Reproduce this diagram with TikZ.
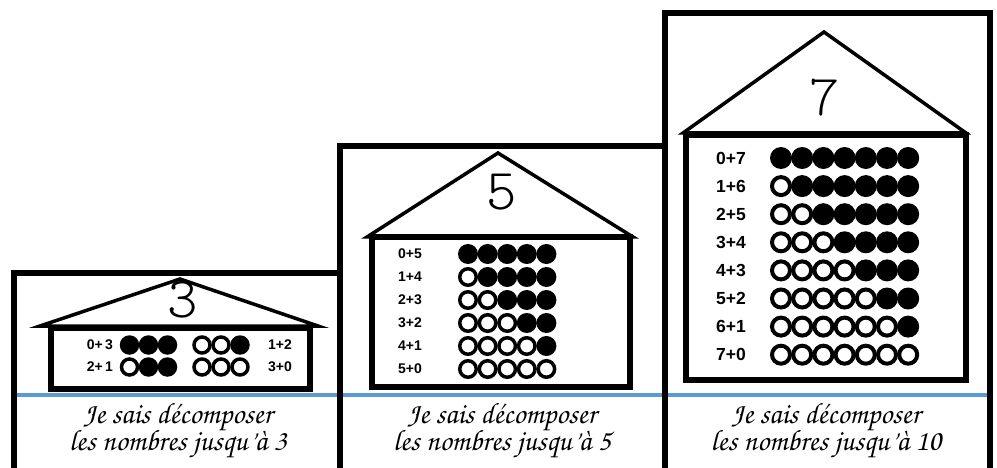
\documentclass[tikz,border=0pt]{standalone}
\usepackage{fontspec}
\newfontfamily\labfont{Liberation Sans}
\newfontfamily\thinfont[Extension=.otf]{lmmonolt10-regular}
\newfontfamily\cursfont[Extension=.otf]{texgyrechorus-mediumitalic}
\definecolor{lineblue}{RGB}{91,155,213}
\begin{document}
\begin{tikzpicture}[x=1pt,y=-1pt,
  frame/.style={draw=black, line width=5.5pt, line join=miter},
  roof/.style={draw=black, line width=3.5pt, line join=miter},
  hbox/.style={draw=black, line width=5.5pt, fill=white},
  digit/.style={inner sep=0pt, font=\thinfont\fontsize{58}{58}\selectfont},
  lab/.style={inner sep=0pt, font=\labfont\bfseries\fontsize{14}{14}\selectfont},
  labbig/.style={inner sep=0pt, font=\labfont\bfseries\fontsize{17.5}{17.5}\selectfont},
  caption/.style={inner sep=0pt, anchor=base, font=\cursfont\fontsize{29.5}{29.5}\selectfont},
  ringa/.style={draw=black, line width=3.5pt, fill=white},
  ringb/.style={draw=black, line width=4pt, fill=white}]
\clip (0,0) rectangle (997,468);
\fill[white] (0,0) rectangle (997,468);
% blue line
\draw[lineblue, line width=3.5pt] (14,395) -- (990,395);
% frames
\draw[frame] (14,480) -- (14,273) -- (340,273);
\draw[frame] (340,480) -- (340,146) -- (665,146);
\draw[frame] (665,480) -- (665,13) -- (990,13) -- (990,480);
% ---------- house 1 ----------
\draw[roof] (40,326) -- (180,279) -- (318,326) -- cycle;
\draw[hbox] (51,328) rectangle (310,389);
\node[digit] (d3) at (183,300) {3};
\node[lab] (l1a) at (100,345) {0+\,3};
\node[lab] (l1b) at (100,367) {2+\,1};
\node[lab] (l1c) at (280,345) {1+2};
\node[lab] (l1d) at (280,367) {3+0};
% row 1: filled filled filled / hollow hollow filled
\fill (129.5,345) circle[radius=9.75];
\fill (148.5,345) circle[radius=9.75];
\fill (167.5,345) circle[radius=9.75];
\draw[ringa] (202,345) circle[radius=8];
\draw[ringa] (221,345) circle[radius=8];
\fill (240,345) circle[radius=9.75];
% row 2: hollow filled filled / hollow hollow hollow
\draw[ringa] (129.5,367) circle[radius=8];
\fill (148.5,367) circle[radius=9.75];
\fill (167.5,367) circle[radius=9.75];
\draw[ringa] (202,367) circle[radius=8];
\draw[ringa] (221,367) circle[radius=8];
\draw[ringa] (240,367) circle[radius=8];
\node[caption] (c1a) at (178,423) {Je sais décomposer};
\node[caption] (c1b) at (178,450) {les nombres jusqu’à 3};
% ---------- house 2 ----------
\draw[roof] (367,237) -- (498,153) -- (633,237) -- cycle;
\draw[hbox] (372,237) rectangle (630,387);
\node[digit] (d5) at (502,192) {5};
\foreach \r in {0,...,5}{
  \pgfmathsetmacro\cy{254+23*\r}
  \pgfmathtruncatemacro\b{5-\r}
  \node[lab] (l2-\r) at (410,\cy) {\r+\b};
  \foreach \i in {0,...,4}{
    \pgfmathsetmacro\cx{468+19.6*\i}
    \ifnum\i<\r
      \draw[ringa] (\cx,\cy) circle[radius=8.25];
    \else
      \fill (\cx,\cy) circle[radius=10];
    \fi
  }
}
\node[caption] (c2a) at (502,423) {Je sais décomposer};
\node[caption] (c2b) at (502,450) {les nombres jusqu’à 5};
% ---------- house 3 ----------
\draw[roof] (683,133) -- (824,32) -- (966,133) -- cycle;
\draw[hbox] (686,135) rectangle (966,380);
\node[digit] (d7) at (825,98) {7};
\foreach \r in {0,...,7}{
  \pgfmathsetmacro\cy{158+28.1*\r}
  \pgfmathtruncatemacro\b{7-\r}
  \node[labbig] (l3-\r) at (731,\cy) {\r+\b};
  \foreach \i in {0,...,6}{
    \pgfmathsetmacro\cx{781+21.2*\i}
    \ifnum\i<\r
      \draw[ringb] (\cx,\cy) circle[radius=9];
    \else
      \fill (\cx,\cy) circle[radius=11];
    \fi
  }
}
\node[caption] (c3a) at (826,423) {Je sais décomposer};
\node[caption] (c3b) at (826,450) {les nombres jusqu’à 10};
\end{tikzpicture}
\end{document}
